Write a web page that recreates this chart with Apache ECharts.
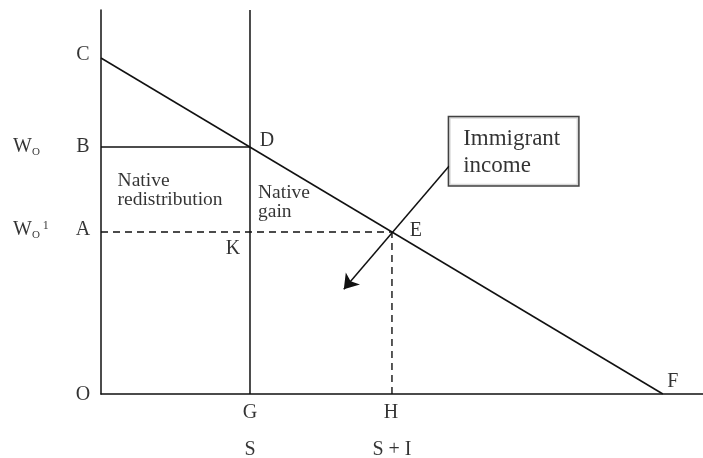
<!DOCTYPE html>
<html>
<head>
<meta charset="utf-8">
<script src="https://cdn.jsdelivr.net/npm/echarts@6/dist/echarts.min.js"></script>
<style>
  html, body { margin: 0; background: #fff; }
  #chart { width: 703px; height: 458px; }
</style>
</head>
<body>
<div id="chart"></div>
<script>
  // labour on x, wage on y (arbitrary units)
  var qNative = 2.97;   // G, S
  var qTotal = 5.80;    // H, S + I
  var qMax = 11.2;      // F
  var wTop = 8.75;      // C
  var wOld = 6.43;      // B, W_O
  var wNew = 4.22;      // A, W_O^1
  var arrowFrom = [6.94, 5.94];
  var arrowTo = [4.84, 2.73];
  var boxCorner = [6.94, 7.21];
  var boxText = 'Immigrant\nincome';
  var pointNames = ['C', 'B', 'A', 'O', 'D', 'E', 'K', 'F', 'G', 'H', 'S', 'S + I'];
  var pointCoords = [[0, wTop], [0, wOld], [0, wNew], [0, 0], [qNative, wOld], [qTotal, wNew],
                     [qNative, wNew], [qMax, 0], [qNative, 0], [qTotal, 0], [qNative, 0], [qTotal, 0]];
  var areaNotes = [
    { text: 'Native\nredistribution', at: [0.33, 5.29] },
    { text: 'Native\ngain', at: [3.13, 5.0] }
  ];

  var ink = '#111';
  var serif = '"Liberation Serif", "Times New Roman", serif';

  // label nudges, px
  var offsets = [[-18, -3], [-18, 0], [-18, -2], [-18, 1], [17, -6], [24, -1],
                 [-17, 17], [10, -12], [0, 19], [-1, 19], [0, 56], [0, 56]];

  function seg(pts, dashed) {
    return {
      type: 'line',
      data: pts,
      symbol: 'none',
      silent: true,
      lineStyle: { color: ink, width: dashed ? 1.4 : 1.5, type: dashed ? [7, 5] : 'solid' }
    };
  }

  var letterData = pointNames.map(function (n, i) {
    return { name: n, value: pointCoords[i], label: { offset: offsets[i] } };
  });

  var option = {
    animation: false,
    grid: { left: 101, right: 0, top: 10, bottom: 64 },
    xAxis: {
      type: 'value', min: 0, max: 12,
      axisLine: { lineStyle: { color: ink, width: 1.5 } },
      axisTick: { show: false }, axisLabel: { show: false }, splitLine: { show: false }
    },
    yAxis: {
      type: 'value', min: 0, max: 10,
      axisLine: { show: true, lineStyle: { color: ink, width: 1.5 } },
      axisTick: { show: false }, axisLabel: { show: false }, splitLine: { show: false }
    },
    series: [
      seg([[0, wTop], [qMax, 0]]),
      seg([[qNative, 0], [qNative, 10]]),
      seg([[0, wOld], [qNative, wOld]]),
      seg([[0, wNew], [qTotal, wNew]], true),
      seg([[qTotal, 0], [qTotal, wNew]], true),
      {
        type: 'lines',
        coordinateSystem: 'cartesian2d',
        silent: true,
        symbol: ['none', 'arrow'],
        symbolSize: [9, 14],
        lineStyle: { color: ink, width: 1.5, opacity: 1 },
        data: [{ coords: [arrowFrom, arrowTo] }]
      },
      {
        type: 'scatter',
        symbolSize: 1,
        silent: true,
        itemStyle: { color: 'transparent' },
        label: {
          show: true, position: 'inside', formatter: '{b}',
          color: '#000', fontFamily: serif, fontSize: 20,
          align: 'center', verticalAlign: 'middle'
        },
        data: letterData
      },
      {
        type: 'scatter',
        symbolSize: 1,
        silent: true,
        itemStyle: { color: 'transparent' },
        label: {
          show: true, position: 'inside',
          color: '#000', fontFamily: serif, fontSize: 20,
          align: 'left', verticalAlign: 'middle',
          rich: {
            w: { fontSize: 20, fontFamily: serif, color: '#000' },
            sub: { fontSize: 11, fontFamily: serif, color: '#000', padding: [11, 0, 0, 0] },
            sup: { fontSize: 12, fontFamily: serif, color: '#000', padding: [0, 0, 9, 3] }
          }
        },
        data: [
          { value: [0, wOld], label: { offset: [-88, 0], formatter: '{w|W}{sub|O}' } },
          { value: [0, wNew], label: { offset: [-88, -2], formatter: '{w|W}{sub|O}{sup|1}' } }
        ]
      },
      {
        type: 'scatter',
        symbolSize: 1,
        silent: true,
        itemStyle: { color: 'transparent' },
        label: {
          show: true, position: 'inside', formatter: '{b}',
          color: '#000', fontFamily: serif, fontSize: 19.5, lineHeight: 19,
          align: 'left', verticalAlign: 'middle'
        },
        data: areaNotes.map(function (a) { return { name: a.text, value: a.at }; })
      },
      {
        type: 'scatter',
        symbolSize: 1,
        silent: true,
        itemStyle: { color: 'transparent' },
        label: {
          show: true, position: 'inside', formatter: boxText,
          color: '#000', fontFamily: serif, fontSize: 23, lineHeight: 27,
          align: 'left', verticalAlign: 'top',
          backgroundColor: '#fff', borderColor: ink, borderWidth: 1.5,
          padding: [8, 12, 8, 14], width: 103, height: 52
        },
        data: [boxCorner]
      }
    ]
  };

  var chart = echarts.init(document.getElementById('chart'));
  chart.setOption(option);
</script>
</body>
</html>
